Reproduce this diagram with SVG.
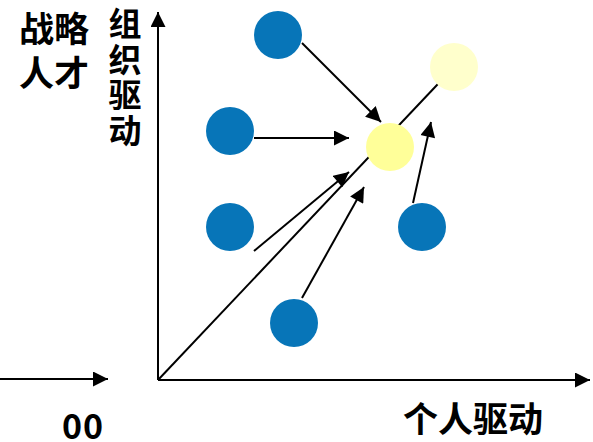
<svg xmlns="http://www.w3.org/2000/svg" width="593" height="442" viewBox="0 0 593 442">
<style>
.lbl{font-family:"Noto Sans CJK SC","Noto Sans",sans-serif;font-weight:bold;fill:#000}
.ln{stroke:#000;stroke-width:2;fill:none}
.blue{fill:#0775B8}
</style>
<defs>
<marker id="ahb" viewBox="0 0 10 10" refX="10" refY="5" markerWidth="16" markerHeight="15" markerUnits="userSpaceOnUse" orient="auto">
<path d="M0,0 L10,5 L0,10 z" fill="#000"/>
</marker>
</defs>
<rect width="593" height="442" fill="#fff"/>
<g id="axes">
<line class="ln" x1="158" y1="380" x2="158" y2="12" marker-end="url(#ahb)"/>
<line class="ln" x1="158" y1="380" x2="590" y2="380" marker-end="url(#ahb)"/>
<line class="ln" x1="0" y1="379" x2="108" y2="379" marker-end="url(#ahb)"/>
<line class="ln" x1="158" y1="380" x2="454" y2="67"/>
</g>
<g id="connectors">
<line class="ln" x1="302" y1="43" x2="381" y2="122" marker-end="url(#ahb)"/>
<line class="ln" x1="254" y1="138" x2="349" y2="138" marker-end="url(#ahb)"/>
<line class="ln" x1="254" y1="251" x2="349" y2="172" marker-end="url(#ahb)"/>
<line class="ln" x1="302" y1="298" x2="364" y2="187" marker-end="url(#ahb)"/>
<line class="ln" x1="413" y1="203" x2="431" y2="122" marker-end="url(#ahb)"/>
</g>
<g id="target"><circle cx="390" cy="147" r="24" fill="#FFFF99"/></g>
<g id="future"><circle cx="454" cy="67" r="24" fill="#FFFFCC"/></g>
<g id="n1"><circle class="blue" cx="278" cy="35" r="24"/></g>
<g id="n2"><circle class="blue" cx="230" cy="131" r="24"/></g>
<g id="n3"><circle class="blue" cx="230" cy="227" r="24"/></g>
<g id="n4"><circle class="blue" cx="294" cy="323" r="24"/></g>
<g id="n5"><circle class="blue" cx="422" cy="227" r="24"/></g>
<g id="labels">
<text class="lbl" font-size="35" text-anchor="middle"><tspan x="54" y="42">战略</tspan><tspan x="54" y="86">人才</tspan></text>
<text class="lbl" x="125" y="7" font-size="33" writing-mode="vertical-rl" letter-spacing="2.5">组织驱动</text>
<text class="lbl" x="403" y="432" font-size="35">个人驱动</text>
<text class="lbl" x="62" y="439" font-size="34" letter-spacing="1">00</text>
</g>
</svg>
